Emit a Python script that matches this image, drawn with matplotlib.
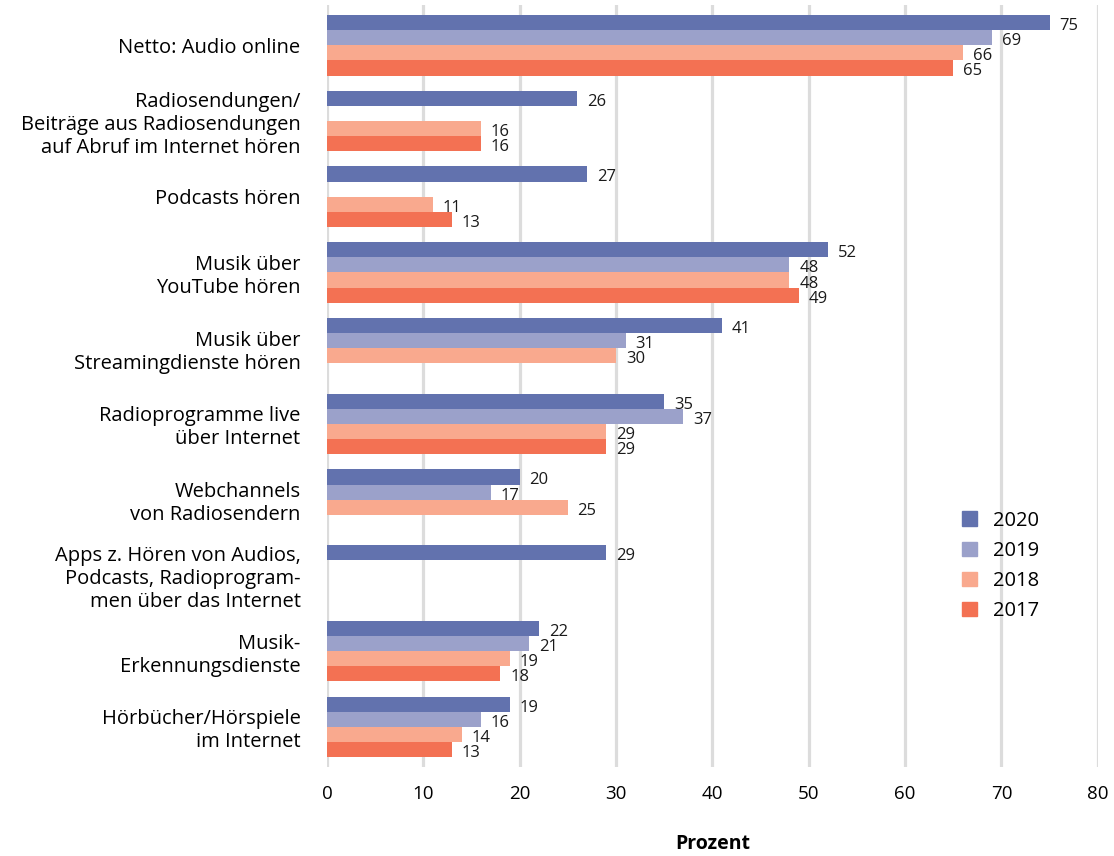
import numpy as np
import matplotlib
matplotlib.use("Agg")
import matplotlib.pyplot as plt
from matplotlib.patches import Patch

plt.rcParams['font.family'] = ['Open Sans', 'DejaVu Sans']

categories = [
    "Netto: Audio online",
    "Radiosendungen/\nBeiträge aus Radiosendungen\nauf Abruf im Internet hören",
    "Podcasts hören",
    "Musik über\nYouTube hören",
    "Musik über\nStreamingdienste hören",
    "Radioprogramme live\nüber Internet",
    "Webchannels\nvon Radiosendern",
    "Apps z. Hören von Audios,\nPodcasts, Radioprogram-\nmen über das Internet",
    "Musik-\nErkennungsdienste",
    "Hörbücher/Hörspiele\nim Internet",
]
years = ["2020", "2019", "2018", "2017"]
nan = np.nan
v2020 = [75, 26, 27, 52, 41, 35, 20, 29, 22, 19]
v2019 = [69, nan, nan, 48, 31, 37, 17, nan, 21, 16]
v2018 = [66, 16, 11, 48, 30, 29, 25, nan, 19, 14]
v2017 = [65, 16, 13, 49, nan, 29, nan, nan, 18, 13]
series = [v2020, v2019, v2018, v2017]
colors = ["#6272ae", "#9ba1ca", "#f9a98e", "#f37153"]

fig = plt.figure(figsize=(11.14, 8.56), dpi=100)
ax = fig.add_axes([0.2935, 0.104, 0.692, 0.89])

y = np.arange(len(categories))
h = 0.2
for i, (vals, col) in enumerate(zip(series, colors)):
    pos = y + (i - 1.5) * h
    for p, v in zip(pos, vals):
        if np.isnan(v):
            continue
        ax.barh(p, v, height=h, color=col, zorder=3)
        ax.annotate(f"{v:g}", (v, p), xytext=(7, -2.5), textcoords="offset points",
                    ha="left", va="center", fontsize=12, color="#1a1a1a")

ax.set_xlim(0, 80)
ax.set_ylim(len(categories) - 0.47, -0.53)
ax.set_xticks(range(0, 81, 10))
ax.set_yticks(y)
ax.set_yticklabels(categories, fontsize=14.5, linespacing=1.2)
ax.tick_params(axis="y", length=0, pad=19)
ax.tick_params(axis="x", length=0, pad=13, labelsize=13.5)
ax.grid(axis="x", color="#dcdcdc", linewidth=2.3, zorder=0)
for s in ax.spines.values():
    s.set_visible(False)
ax.set_xlabel("Prozent", fontsize=14, fontweight="bold", labelpad=22)

handles = [Patch(color=c, label=l) for c, l in zip(colors, years)]
ax.legend(handles=handles, loc="upper left", bbox_to_anchor=(0.8, 0.36),
          frameon=False, fontsize=14.5, handlelength=0.75, handleheight=0.75,
          labelspacing=0.5, handletextpad=0.8)

fig.savefig("out.png", dpi=100)
